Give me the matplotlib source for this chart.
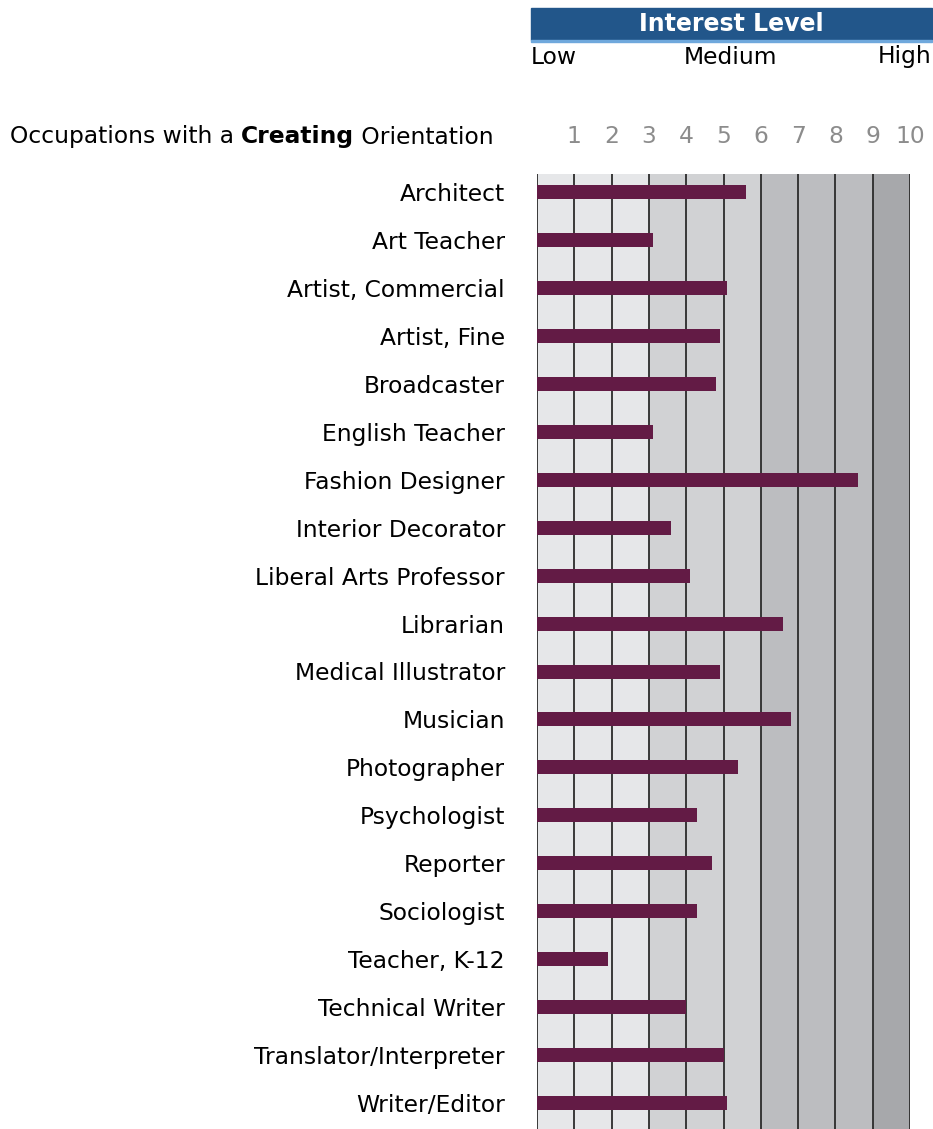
import numpy as np
import matplotlib.pyplot as plt
from matplotlib.patches import Rectangle

occupations = ['Architect', 'Art Teacher', 'Artist, Commercial', 'Artist, Fine', 'Broadcaster',
               'English Teacher', 'Fashion Designer', 'Interior Decorator', 'Liberal Arts Professor',
               'Librarian', 'Medical Illustrator', 'Musician', 'Photographer', 'Psychologist',
               'Reporter', 'Sociologist', 'Teacher, K-12', 'Technical Writer',
               'Translator/Interpreter', 'Writer/Editor']
scores = [5.6, 3.1, 5.1, 4.9, 4.8, 3.1, 8.6, 3.6, 4.1, 6.6,
          4.9, 6.8, 5.4, 4.3, 4.7, 4.3, 1.9, 4.0, 5.0, 5.1]
ticks = list(range(1, 11))
# shaded bands: (start, end, colour)
bands = [(0, 3, '#e6e7e9'), (3, 6, '#d1d2d4'), (6, 9, '#bcbdc0'), (9, 10, '#a7a8ab')]

W, H = 933, 1129
FS = 16.8
fig = plt.figure(figsize=(W / 100, H / 100), dpi=100)
plt.rcParams['font.family'] = 'DejaVu Sans'

def fx(px): return px / W
def fy(py): return 1 - py / H

# plot area in pixels
left, right, top, bottom = 537, 910, 174, 1129
ax = fig.add_axes([fx(left), fy(bottom), fx(right) - fx(left), fy(top) - fy(bottom)])
row = 47.95
ax.set_xlim(0, 10)
ax.set_ylim((bottom - 192) / row, (top - 192) / row)

for a, b, c in bands:
    ax.axvspan(a, b, color=c, lw=0, zorder=0)
for v in range(0, 11):
    ax.axvline(v, color='#2b2b2b', lw=1.3, zorder=1)

y = np.arange(len(occupations))
ax.barh(y, scores, height=14 / row, color='#631b45', zorder=2)

ax.set_yticks(y)
ax.set_yticklabels(occupations, fontsize=FS)
ax.tick_params(axis='y', length=0, pad=23)
ax.set_xticks(ticks)
ax.xaxis.tick_top()
ax.set_xticklabels([str(t) for t in ticks], fontsize=FS, color='#8c8c8c')
ax.tick_params(axis='x', length=0, pad=19)
for s in ax.spines.values():
    s.set_visible(False)

# header
fig.patches.append(Rectangle((fx(531), fy(40)), fx(932) - fx(531), fy(8) - fy(40),
                             transform=fig.transFigure, color='#22568a', zorder=5))
fig.patches.append(Rectangle((fx(531), fy(42)), fx(932) - fx(531), fy(40) - fy(42),
                             transform=fig.transFigure, color='#6fa8dc', zorder=5))
fig.text(fx(731), fy(24), 'Interest Level', color='white', fontsize=17, fontweight='bold',
         ha='center', va='center', zorder=6)
fig.text(fx(531), fy(57), 'Low', fontsize=FS, ha='left', va='center')
fig.text(fx(731), fy(57), 'Medium', fontsize=FS, ha='center', va='center')
fig.text(fx(932), fy(57), 'High', fontsize=FS, ha='right', va='center')

# title with bold word
t1 = fig.text(fx(10), fy(137), 'Occupations with a ', fontsize=FS, ha='left', va='center')
fig.canvas.draw()
r = fig.canvas.get_renderer()
bb = t1.get_window_extent(r)
t2 = fig.text(bb.x1 / W, fy(137), 'Creating', fontsize=FS, fontweight='bold', ha='left', va='center')
bb2 = t2.get_window_extent(r)
fig.text(bb2.x1 / W, fy(137), ' Orientation', fontsize=FS, ha='left', va='center')

fig.savefig('out.png', dpi=100)
